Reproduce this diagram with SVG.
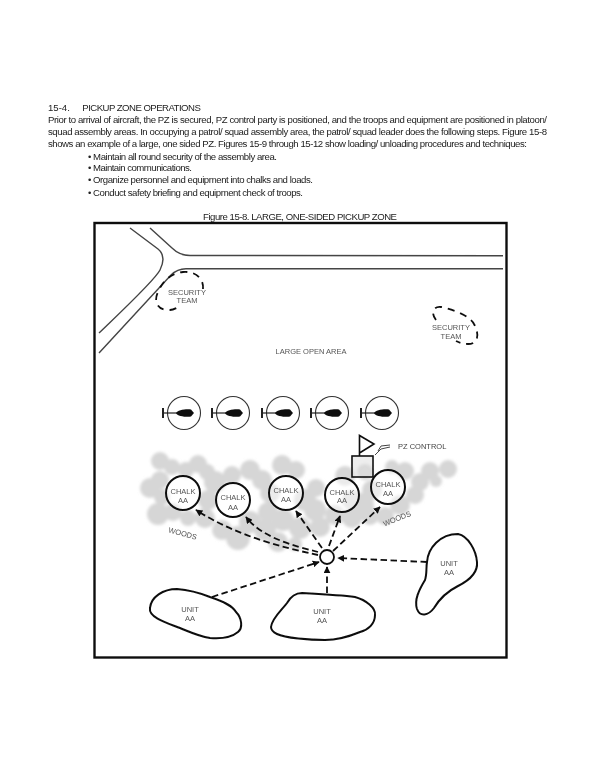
<svg xmlns="http://www.w3.org/2000/svg" width="600" height="758" viewBox="0 0 600 758">
<style>
text{font-family:"Liberation Sans",Arial,sans-serif}
.b{font-size:9.6px;fill:#222}
.l{font-size:7.5px;fill:#555;text-anchor:middle}
.line{fill:none;stroke:#444;stroke-width:1.4}
.o{fill:none;stroke:#111;stroke-width:2}
.ch{fill:#fff;fill-opacity:.5;stroke:#111;stroke-width:2}
.h{fill:none;stroke:#333;stroke-width:1.1}
.d{fill:none;stroke:#111;stroke-width:1.8;stroke-dasharray:6.5 3.5;marker-end:url(#a)}
.st{fill:none;stroke:#111;stroke-width:1.8;stroke-dasharray:7 6}
.w{fill:#d6d6d6;filter:url(#soft)}
</style>
<defs>
<filter id="soft" x="-5%" y="-5%" width="110%" height="110%"><feGaussianBlur stdDeviation="1.4"/></filter>
<filter id="sl" x="0" y="0" width="100%" height="100%" filterUnits="userSpaceOnUse"><feGaussianBlur stdDeviation="0.35"/></filter>
<marker id="a" viewBox="0 0 10 10" refX="9" refY="5" markerWidth="7" markerHeight="7" markerUnits="userSpaceOnUse" orient="auto"><path d="M0 0L10 5L0 10Z" fill="#111"/></marker>
<g id="heli"><circle class="h" r="16.5"/><path d="M-21 0H0" stroke="#222" stroke-width="1.2"/><path d="M-21 -5V5" stroke="#222" stroke-width="2"/><path d="M-8 0C-7 -3.5 4 -4.5 7 -3.5L10 0L7 3.5C4 4.5 -7 3.5 -8 0Z" fill="#111"/></g>
</defs>
<rect width="600" height="758" fill="#fff"/>
<g id="page-text" class="b" filter="url(#sl)">
<text x="48" y="110.5">15-4.</text>
<text x="82.3" y="110.5" textLength="118.5" lengthAdjust="spacing">PICKUP ZONE OPERATIONS</text>
<text x="48" y="123" textLength="499" lengthAdjust="spacing">Prior to arrival of aircraft, the PZ is secured, PZ control party is positioned, and the troops and equipment are positioned in platoon/</text>
<text x="48" y="135" textLength="499" lengthAdjust="spacing">squad assembly areas. In occupying a patrol/ squad assembly area, the patrol/ squad leader does the following steps. Figure 15-8</text>
<text x="48" y="147" textLength="479" lengthAdjust="spacing">shows an example of a large, one sided PZ. Figures 15-9 through 15-12 show loading/ unloading procedures and techniques:</text>
<text x="88" y="159.5" textLength="189" lengthAdjust="spacing">• Maintain all round security of the assembly area.</text>
<text x="88" y="171" textLength="104" lengthAdjust="spacing">• Maintain communications.</text>
<text x="88" y="183" textLength="225" lengthAdjust="spacing">• Organize personnel and equipment into chalks and loads.</text>
<text x="88" y="195.5" textLength="215" lengthAdjust="spacing">• Conduct safety briefing and equipment check of troops.</text>
<text x="203" y="219.5" textLength="194" lengthAdjust="spacing">Figure 15-8. LARGE, ONE-SIDED PICKUP ZONE</text>
</g>
<g id="art" filter="url(#sl)">
<rect id="frame" x="94.5" y="223" width="412" height="434.5" fill="none" stroke="#111" stroke-width="2.4"/>
<g id="road">
<path class="line" d="M130 228L158 249C164 254 164 262 160 270C155 280 125 308 99 333"/>
<path class="line" d="M150 228L172 248C177 253 182 255.5 190 255.5L503 255.7"/>
<path class="line" d="M503 268.7H186C180 268.7 176 270 171 275L99 353"/>
</g>
<g id="woods" class="w">
<circle cx="160" cy="461" r="9"/><circle cx="172" cy="467" r="8"/><circle cx="186" cy="470" r="8"/><circle cx="198" cy="464" r="9"/><circle cx="207" cy="472" r="8"/><circle cx="150" cy="488" r="10"/><circle cx="160" cy="480" r="9"/><circle cx="162" cy="497" r="8"/><circle cx="158" cy="514" r="11"/><circle cx="173" cy="512" r="9"/><circle cx="215" cy="482" r="11"/><circle cx="232" cy="475" r="9"/><circle cx="250" cy="470" r="10"/><circle cx="262" cy="480" r="10"/><circle cx="282" cy="465" r="10"/><circle cx="296" cy="470" r="9"/><circle cx="270" cy="493" r="10"/><circle cx="208" cy="500" r="10"/><circle cx="205" cy="518" r="10"/><circle cx="188" cy="518" r="8"/><circle cx="222" cy="530" r="10"/><circle cx="238" cy="538" r="12"/><circle cx="250" cy="522" r="11"/><circle cx="265" cy="530" r="11"/><circle cx="268" cy="512" r="10"/><circle cx="283" cy="520" r="11"/><circle cx="300" cy="528" r="11"/><circle cx="278" cy="542" r="10"/><circle cx="295" cy="544" r="7"/><circle cx="305" cy="500" r="11"/><circle cx="315" cy="510" r="11"/><circle cx="316" cy="488" r="9"/><circle cx="320" cy="527" r="10"/><circle cx="345" cy="476" r="10"/><circle cx="335" cy="515" r="10"/><circle cx="352" cy="518" r="10"/><circle cx="362" cy="505" r="12"/><circle cx="370" cy="516" r="9"/><circle cx="385" cy="516" r="9"/><circle cx="400" cy="505" r="10"/><circle cx="415" cy="495" r="9"/><circle cx="420" cy="482" r="9"/><circle cx="405" cy="471" r="9"/><circle cx="392" cy="467" r="7"/><circle cx="430" cy="471" r="9"/><circle cx="448" cy="469" r="9"/><circle cx="436" cy="481" r="6"/><circle cx="372" cy="490" r="10"/><circle cx="352" cy="500" r="10"/><circle cx="365" cy="472" r="8"/>
</g>
<g id="labels-ground">
<text class="l" x="311" y="353.5">LARGE OPEN AREA</text>
<text class="l" transform="translate(182 536) rotate(15)">WOODS</text>
<text class="l" transform="translate(398 521) rotate(-22)">WOODS</text>
<text class="l" x="398" y="448.5" style="text-anchor:start;fill:#444">PZ CONTROL</text>
</g>
<g id="team1"><path class="st" d="M203 289C204 278 195 271 183 272C172 273 163 280 158 292C153 302 158 311 170 310C173 310 177 308 180 306"/><text class="l" x="187" y="295">SECURITY</text><text class="l" x="187" y="303">TEAM</text></g>
<g id="team2"><path class="st" d="M436 320C430 312 434 306 441 307C455 310 470 316 474 324C480 335 478 344 468 344C463 344 460 343 456 341"/><text class="l" x="451" y="330">SECURITY</text><text class="l" x="451" y="339">TEAM</text></g>
<use id="heli1" href="#heli" x="184" y="413"/>
<use id="heli2" href="#heli" x="233" y="413"/>
<use id="heli3" href="#heli" x="283" y="413"/>
<use id="heli4" href="#heli" x="332" y="413"/>
<use id="heli5" href="#heli" x="382" y="413"/>
<g id="pz-control">
<rect x="352" y="456" width="21" height="21" fill="#ddd" fill-opacity=".5" stroke="#111" stroke-width="1.6"/>
<path d="M359.5 456V435.5L374 444L359.5 453" fill="none" stroke="#111" stroke-width="1.6"/>
<path d="M375 455L381 449L390 447M378 451L381 446L390 445" fill="none" stroke="#444"/>
</g>
<g id="chalk1"><circle class="ch" cx="183" cy="493" r="17"/><text class="l" x="183" y="494">CHALK</text><text class="l" x="183" y="503">AA</text></g>
<g id="chalk2"><circle class="ch" cx="233" cy="500" r="17"/><text class="l" x="233" y="500">CHALK</text><text class="l" x="233" y="510">AA</text></g>
<g id="chalk3"><circle class="ch" cx="286" cy="493" r="17"/><text class="l" x="286" y="493">CHALK</text><text class="l" x="286" y="502">AA</text></g>
<g id="chalk4"><circle class="ch" cx="342" cy="495" r="17"/><text class="l" x="342" y="495">CHALK</text><text class="l" x="342" y="503">AA</text></g>
<g id="chalk5"><circle class="ch" cx="388" cy="487" r="17"/><text class="l" x="388" y="487">CHALK</text><text class="l" x="388" y="496">AA</text></g>
<g id="connectors">
<path class="d" d="M318 555C280 547 235 535 196 510"/>
<path class="d" d="M318 552C295 546 262 538 246 517"/>
<path class="d" d="M322 548L296 511"/>
<path class="d" d="M329 546L340 516"/>
<path class="d" d="M333 551L380 507"/>
<path class="d" d="M427 562L338 558"/>
<path class="d" d="M327 593V567"/>
<path class="d" d="M212 597L319 562"/>
</g>
<g id="assembly"><circle cx="327" cy="557" r="7" fill="#fff" stroke="#111" stroke-width="1.8"/></g>
<g id="unit1"><path class="o" d="M150 608C151 597 163 589 177 589C190 590 200 593 210 597C222 601 232 605 236 612C242 618 243 628 238 632C232 637 222 639 210 638C198 636 190 632 180 628C170 624 148 618 150 608Z"/><text class="l" x="190" y="612">UNIT</text><text class="l" x="190" y="621">AA</text></g>
<g id="unit2"><path class="o" d="M271 627C272 618 282 610 287 603C291 596 296 593 302 593C320 594 340 595 355 597C366 600 376 608 375 615C375 624 368 630 360 632C348 637 338 640 325 640C310 640 285 638 277 634C273 632 271 630 271 627Z"/><text class="l" x="322" y="614">UNIT</text><text class="l" x="322" y="623">AA</text></g>
<g id="unit3"><path class="o" d="M427 562C428 548 440 534 458 534C468 536 476 550 477 562C478 572 470 580 458 586C448 591 440 598 434 608C428 616 420 617 417 609C414 600 419 590 425 580C427 574 426 568 427 562Z"/><text class="l" x="449" y="566">UNIT</text><text class="l" x="449" y="575">AA</text></g>
</g>
</svg>
